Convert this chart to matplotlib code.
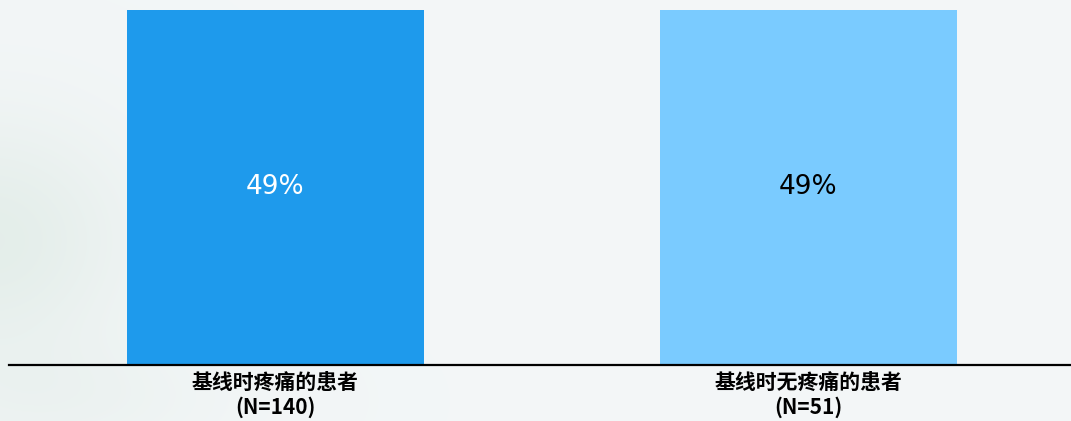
import numpy as np
import matplotlib
matplotlib.use("Agg")
import matplotlib.pyplot as plt

plt.rcParams['font.family'] = ['Noto Sans CJK SC', 'DejaVu Sans']

categories = ["基线时疼痛的患者\n(N=140)", "基线时无疼痛的患者\n(N=51)"]
values = [49, 49]
value_labels = ["49%", "49%"]
bar_colors = ["#1e9aec", "#7acbff"]
label_colors = ["white", "black"]

W, H, DPI = 1071, 421, 100
fig = plt.figure(figsize=(W / DPI, H / DPI), dpi=DPI)

# soft paper-like backdrop with a pale green wash on the left
bg = fig.add_axes([0, 0, 1, 1], zorder=0)
yy, xx = np.mgrid[0:H, 0:W]
wash = (0.8 * np.exp(-(((xx + 10) / 140.0) ** 2 + ((yy - 240) / 120.0) ** 2))
        + 0.3 * np.exp(-(((xx - 60) / 160.0) ** 2 + ((yy - 400) / 60.0) ** 2)))
wash = np.clip(wash, 0, 1)
base = np.array([0.953, 0.965, 0.969])
green = np.array([0.88, 0.925, 0.905])
img = base[None, None, :] * (1 - wash[..., None]) + green[None, None, :] * wash[..., None]
bg.imshow(img, aspect='auto', extent=[0, W, H, 0])
bg.set_axis_off()

left = 9 / W
bottom = (H - 365) / H
ax = fig.add_axes([left, bottom, 1 - left, 1 - bottom], zorder=1)
ax.patch.set_alpha(0)

x = np.arange(len(categories))
bars = ax.bar(x, values, width=0.557, color=bar_colors)
ax.set_xlim(-0.5, 1.4925)
ax.set_ylim(0, 49 * 365 / 355)

for xi, v, txt, c in zip(x, values, value_labels, label_colors):
    ax.text(xi, v / 2, txt, ha='center', va='center', fontsize=19,
            color=c, family=['DejaVu Sans'])

ax.set_xticks(x)
ax.set_xticklabels(categories, fontsize=15, fontweight='bold', linespacing=1.2)
ax.tick_params(axis='x', length=0, pad=5)
ax.set_yticks([])
for s in ['top', 'right', 'left']:
    ax.spines[s].set_visible(False)
ax.spines['bottom'].set_linewidth(1.6)
ax.spines['bottom'].set_color('black')

fig.savefig("out.png", dpi=DPI)
